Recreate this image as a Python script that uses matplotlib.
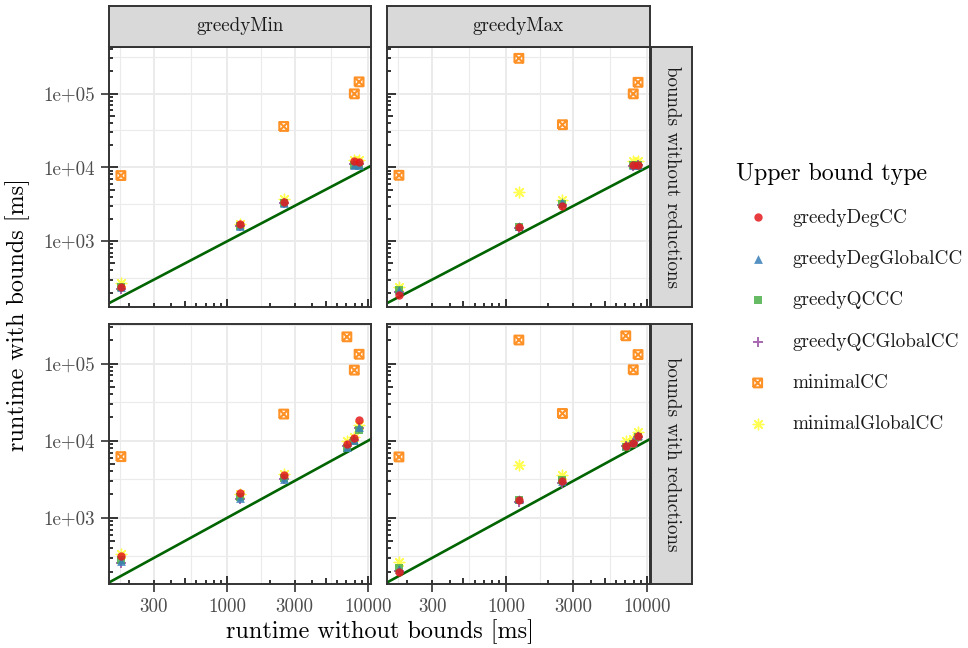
import numpy as np
import matplotlib
matplotlib.use("Agg")
import matplotlib.pyplot as plt
from matplotlib.path import Path
from matplotlib.ticker import FixedLocator, FixedFormatter, NullFormatter
from matplotlib.transforms import blended_transform_factory

plt.rcParams['font.family'] = ['cmr10', 'DejaVu Serif']
plt.rcParams['axes.formatter.use_mathtext'] = True
plt.rcParams['mathtext.fontset'] = 'cm'

# ---------------- data ----------------
series = ['greedyDegCC', 'greedyDegGlobalCC', 'greedyQCCC',
          'greedyQCGlobalCC', 'minimalCC', 'minimalGlobalCC']
col_labels = ['greedyMin', 'greedyMax']
row_labels = ['bounds without reductions', 'bounds with reductions']

x_top = [175, 1235, 2510, 7960, 8610]
x_bottom = [175, 1235, 2510, 7050, 7960, 8610]
nan = np.nan

# greedyMin, bounds without reductions
tl_greedyDegCC       = [242, 1718, 3436, 12050, 11700]
tl_greedyDegGlobalCC = [238, 1600, 3250, 10900, 10900]
tl_greedyQCCC        = [235, 1600, 3250, 10700, 10600]
tl_greedyQCGlobalCC  = [225, 1580, 3300, 11000, 11000]
tl_minimalCC         = [7730, nan, 35800, 99000, 144000]
tl_minimalGlobalCC   = [270, 1700, 3740, 12500, 12500]

# greedyMax, bounds without reductions
tr_greedyDegCC       = [185, 1545, 3033, 10770, 10770]
tr_greedyDegGlobalCC = [220, 1600, 3400, 10800, 10900]
tr_greedyQCCC        = [215, 1550, 3150, 10600, 10700]
tr_greedyQCGlobalCC  = [205, 1500, 3100, 10500, 10800]
tr_minimalCC         = [7800, 300000, 37800, 99000, 142000]
tr_minimalGlobalCC   = [237, 4660, 3630, 12000, 12200]

# greedyMin, bounds with reductions
bl_greedyDegCC       = [316, 2095, 3530, 8940, 10870, 18300]
bl_greedyDegGlobalCC = [272, 1785, 3170, 8300, 10200, 14800]
bl_greedyQCCC        = [285, 1850, 3250, 8100, 10000, 13800]
bl_greedyQCGlobalCC  = [257, 1750, 3200, 8400, 10300, 14500]
bl_minimalCC         = [6190, nan, 22100, 222000, 82200, 132000]
bl_minimalGlobalCC   = [337, 2050, 3650, 9800, 11000, 16000]

# greedyMax, bounds with reductions
br_greedyDegCC       = [196, 1718, 2950, 8490, 9200, 11500]
br_greedyDegGlobalCC = [215, 1760, 3000, 8700, 9500, 11800]
br_greedyQCCC        = [221, 1700, 3050, 8300, 9000, 11000]
br_greedyQCGlobalCC  = [205, 1600, 2850, 8400, 9400, 11300]
br_minimalCC         = [6140, 202000, 22500, 229000, 83000, 130700]
br_minimalGlobalCC   = [263, 4840, 3530, 9900, 10500, 12800]

panels = {
    (0, 0): (x_top, [tl_greedyDegCC, tl_greedyDegGlobalCC, tl_greedyQCCC,
                     tl_greedyQCGlobalCC, tl_minimalCC, tl_minimalGlobalCC]),
    (0, 1): (x_top, [tr_greedyDegCC, tr_greedyDegGlobalCC, tr_greedyQCCC,
                     tr_greedyQCGlobalCC, tr_minimalCC, tr_minimalGlobalCC]),
    (1, 0): (x_bottom, [bl_greedyDegCC, bl_greedyDegGlobalCC, bl_greedyQCCC,
                        bl_greedyQCGlobalCC, bl_minimalCC, bl_minimalGlobalCC]),
    (1, 1): (x_bottom, [br_greedyDegCC, br_greedyDegGlobalCC, br_greedyQCCC,
                        br_greedyQCGlobalCC, br_minimalCC, br_minimalGlobalCC]),
}

x_breaks = [300, 1000, 3000, 10000]
x_break_labels = ['300', '1000', '3000', '10000']
y_breaks = [1e3, 1e4, 1e5]
y_break_labels = ['1e+03', '1e+04', '1e+05']

# ---------------- styles ----------------
colors = ['#E41A1C', '#377EB8', '#4DAF4A', '#984EA3', '#FF7F00', '#FFFF33']
boxx = Path([(-1, -1), (1, -1), (1, 1), (-1, 1), (-1, -1), (-1, -1), (1, 1), (-1, 1), (1, -1)],
            [Path.MOVETO, Path.LINETO, Path.LINETO, Path.LINETO, Path.LINETO,
             Path.MOVETO, Path.LINETO, Path.MOVETO, Path.LINETO])
markers = ['o', '^', 's', '+', boxx, (8, 2, 0)]
sizes = [36, 40, 26, 60, 40, 58]
lws = [0, 0, 0, 1.4, 1.5, 1.0]
kind = ['fill', 'fill', 'fill', 'line', 'box', 'line']

W, H = 968, 648
fig = plt.figure(figsize=(W / 100, H / 100), dpi=100)


def frac(x0, y0, x1, y1):
    return [x0 / W, 1 - y1 / H, (x1 - x0) / W, (y1 - y0) / H]


panel_px = {(0, 0): (109, 46.5, 371, 307), (0, 1): (387, 46.5, 650, 307),
            (1, 0): (109, 324, 371, 584), (1, 1): (387, 324, 650, 584)}


def expand_log(vals):
    v = np.log10(np.array([a for a in vals if np.isfinite(a)]))
    lo, hi = v.min(), v.max()
    d = hi - lo
    return 10 ** (lo - 0.05 * d), 10 ** (hi + 0.05 * d)


xlim = expand_log(x_top + x_bottom)
ylims = {}
for r in range(2):
    allv = []
    for c in range(2):
        for s in panels[(r, c)][1]:
            allv += list(s)
    ylims[r] = expand_log(allv)

dark = '#333333'
grid_c = '#EBEBEB'


def logticks(ax, which, lo, hi, span_px):
    tr = (blended_transform_factory(ax.transData, ax.transAxes) if which == 'x'
          else blended_transform_factory(ax.transAxes, ax.transData))
    for k in range(int(np.floor(np.log10(lo))), int(np.ceil(np.log10(hi))) + 1):
        for m in range(1, 10):
            v = m * 10.0 ** k
            if lo <= v <= hi:
                L = (8.5 if m == 1 else (6 if m == 5 else 4)) / span_px
                if which == 'x':
                    ax.plot([v, v], [0, L], transform=tr, color=dark, lw=1.4,
                            solid_capstyle='butt', zorder=2.5)
                else:
                    ax.plot([0, L], [v, v], transform=tr, color=dark, lw=1.4,
                            solid_capstyle='butt', zorder=2.5)


handles = {}
for (r, c), (xs, ys_list) in panels.items():
    x0, y0, x1, y1 = panel_px[(r, c)]
    ax = fig.add_axes(frac(x0, y0, x1, y1))
    ax.set_xscale('log')
    ax.set_yscale('log')
    ax.set_xlim(*xlim)
    ax.set_ylim(*ylims[r])
    ax.set_facecolor('white')
    for sp in ax.spines.values():
        sp.set_color(dark)
        sp.set_linewidth(1.4)
        sp.set_zorder(5)
    ax.xaxis.set_major_locator(FixedLocator(x_breaks))
    ax.xaxis.set_major_formatter(FixedFormatter(x_break_labels))
    ax.yaxis.set_major_locator(FixedLocator(y_breaks))
    ax.yaxis.set_major_formatter(FixedFormatter(y_break_labels))
    xb = np.log10([100] + x_breaks)
    ax.xaxis.set_minor_locator(FixedLocator(10 ** ((xb[:-1] + xb[1:]) / 2)))
    yb = np.log10([1e2] + y_breaks + [1e6])
    ax.yaxis.set_minor_locator(FixedLocator(10 ** ((yb[:-1] + yb[1:]) / 2)))
    ax.xaxis.set_minor_formatter(NullFormatter())
    ax.yaxis.set_minor_formatter(NullFormatter())
    ax.tick_params(which='minor', length=0)
    ax.tick_params(which='major', length=6, width=1.2, color=dark,
                   labelcolor='#4D4D4D', labelsize=13.7, pad=4)
    ax.grid(which='major', color=grid_c, lw=1.4, zorder=0)
    ax.grid(which='minor', color=grid_c, lw=0.8, zorder=0)
    ax.set_axisbelow(True)
    if r == 0:
        ax.tick_params(axis='x', which='major', length=0, labelbottom=False)
    if c == 1:
        ax.tick_params(axis='y', which='major', length=0, labelleft=False)

    logticks(ax, 'x', xlim[0], xlim[1], y1 - y0)
    logticks(ax, 'y', ylims[r][0], ylims[r][1], x1 - x0)

    ax.axline((100, 100), (10000, 10000), color='#006400', lw=1.9, zorder=2)

    for i in reversed(range(len(series))):
        ys = ys_list[i]
        kw = dict(marker=markers[i], s=sizes[i], alpha=0.85, zorder=3 + (6 - i) * 0.01,
                  label=series[i])
        if kind[i] == 'fill':
            h = ax.scatter(xs, ys, color=colors[i], linewidths=0, **kw)
        elif kind[i] == 'box':
            h = ax.scatter(xs, ys, facecolors='none', edgecolors=colors[i],
                           linewidths=lws[i], **kw)
        else:
            h = ax.scatter(xs, ys, color=colors[i], linewidths=lws[i], **kw)
        handles[i] = h

# strips
for c, lab in enumerate(col_labels):
    x0, y0, x1, y1 = panel_px[(0, c)]
    sax = fig.add_axes(frac(x0, 6, x1, 46.5))
    sax.set_facecolor('#D9D9D9')
    sax.set_xticks([]); sax.set_yticks([])
    for sp in sax.spines.values():
        sp.set_color(dark); sp.set_linewidth(1.4)
    sax.text(0.5, 0.5, lab, ha='center', va='center', fontsize=13.7,
             color='#1A1A1A', transform=sax.transAxes)

for r, lab in enumerate(row_labels):
    x0, y0, x1, y1 = panel_px[(r, 1)]
    sax = fig.add_axes(frac(651, y0, 692, y1))
    sax.set_facecolor('#D9D9D9')
    sax.set_xticks([]); sax.set_yticks([])
    for sp in sax.spines.values():
        sp.set_color(dark); sp.set_linewidth(1.4)
    sax.text(0.5, 0.5, lab, ha='center', va='center', fontsize=13.7,
             color='#1A1A1A', rotation=-90, transform=sax.transAxes)

fig.text(379.5 / W, 1 - 632 / H, 'runtime without bounds [ms]', ha='center',
         va='center', fontsize=17.4, color='black')
fig.text(18 / W, 1 - 315 / H, 'runtime with bounds [ms]', ha='center',
         va='center', rotation=90, fontsize=17.4, color='black')

leg = fig.legend([handles[i] for i in range(6)], series, loc='upper left',
                 bbox_to_anchor=(736 / W, 1 - 163 / H), frameon=False,
                 title='Upper bound type', alignment='left', fontsize=13.8,
                 title_fontsize=17.2, labelspacing=1.22, handletextpad=0.7,
                 handlelength=2.26, borderpad=0, borderaxespad=0)
for t in leg.get_texts():
    t.set_color('#1A1A1A')

fig.savefig('out.png', dpi=100)
